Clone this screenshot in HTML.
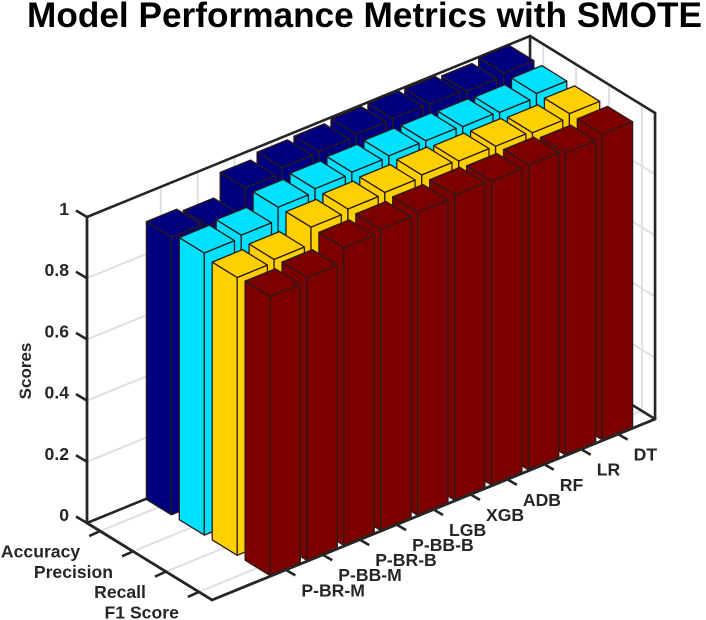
<!DOCTYPE html>
<html lang="en">
<head>
<meta charset="utf-8">
<title>Model Performance Metrics with SMOTE</title>
<style>
html,body{margin:0;padding:0;background:#fff;width:706px;height:620px;overflow:hidden}
svg{display:block;filter:blur(0.35px)}
text{font-family:"Liberation Sans",Arial,sans-serif;font-weight:bold;fill:#262626}
</style>
</head>
<body>
<svg id="chart" width="706" height="620" viewBox="0 0 706 620" xmlns="http://www.w3.org/2000/svg">
  <text x="27" y="27" font-size="35" style="fill:#000" textLength="675" lengthAdjust="spacingAndGlyphs">Model Performance Metrics with SMOTE</text>
  <text transform="translate(31,371) rotate(-90)" text-anchor="middle" font-size="17">Scores</text>
</svg>
<script>
const categories = ['P-BR-M','P-BB-M','P-BR-B','P-BB-B','LGB','XGB','ADB','RF','LR','DT'];
const seriesNames = ['Accuracy','Precision','Recall','F1 Score'];
const seriesColors = ['#00007f','#00e0ff','#ffd000','#7d0000'];
const accuracy = [0.908,0.895,0.970,0.987,0.990,0.997,0.999,0.997,0.990,1.000];
const precision = [0.922,0.931,0.973,0.984,0.989,0.993,0.993,0.990,0.987,1.000];
const recall = [0.908,0.918,0.974,0.984,0.989,0.997,0.993,0.992,0.987,1.000];
const f1Score = [0.912,0.925,0.973,0.984,0.990,0.997,0.993,0.997,0.987,0.999];
const zTicks = [0,0.2,0.4,0.6,0.8,1];

const seriesValues = [accuracy,precision,recall,f1Score];
const svg = document.getElementById('chart');
const NS = 'http://www.w3.org/2000/svg';
const AXIS = '#262626', GRID = '#e0e0e0', EDGE = '#2b1a1a';
const X_MAX = 12, Y_MAX = 3.8;

// axis functions: category index -> x unit, series index -> y unit, projection to the screen
function xUnit(i){ return i + 2; }
function yUnit(s){ return s + 0.4; }
function px(x,y){ return 87 + x*36.92 + y*32.9; }
function py(x,y,z){ return 523 - x*15.08 + y*20.26 - z*306; }
function pt(x,y,z){ return px(x,y).toFixed(1) + ',' + py(x,y,z).toFixed(1); }

function make(tag, parent, attrs){
  const el = document.createElementNS(NS, tag);
  for (const k in attrs) el.setAttribute(k, attrs[k]);
  parent.appendChild(el);
  return el;
}
function segment(parent, a, b, color, w){
  return make('line', parent, {x1:px(a[0],a[1]),y1:py(a[0],a[1],a[2]),x2:px(b[0],b[1]),y2:py(b[0],b[1],b[2]),stroke:color,'stroke-width':w,'stroke-linecap':'round'});
}
function group(parent){
  return make('g', parent, {});
}

// gridlines on the back walls and floor
const gridGroup = group(svg);


zTicks.forEach(function(z){
  const a = segment(gridGroup,[0,0,z],[X_MAX,0,z],GRID,2);
  
  
  const b = segment(gridGroup,[X_MAX,0,z],[X_MAX,Y_MAX,z],GRID,2);
  
  
});
categories.forEach(function(c,i){
  const a = segment(gridGroup,[xUnit(i),0,0],[xUnit(i),0,1],GRID,2);
  
  
  const b = segment(gridGroup,[xUnit(i),0,0],[xUnit(i),Y_MAX,0],GRID,2);
  
  
});
seriesNames.forEach(function(n,s){
  const a = segment(gridGroup,[X_MAX,yUnit(s),0],[X_MAX,yUnit(s),1],GRID,2);
  
  
  const b = segment(gridGroup,[0,yUnit(s),0],[X_MAX,yUnit(s),0],GRID,2);
  
  
});

// rear part of the axis box
const backBox = group(svg);


[[[0,0,0],[X_MAX,0,0]],[[X_MAX,0,0],[X_MAX,Y_MAX,0]],[[X_MAX,0,0],[X_MAX,0,1]],[[0,0,1],[X_MAX,0,1]],[[X_MAX,0,1],[X_MAX,Y_MAX,1]],[[X_MAX,Y_MAX,0],[X_MAX,Y_MAX,1]]].forEach(function(e){
  segment(backBox,e[0],e[1],AXIS,2.6);
});

// bars, drawn from the rear of the scene to the front
const HW = 0.41, HD = 0.38;
const barsGroup = group(svg);


seriesNames.forEach(function(name,s){
  const values = seriesValues[s];
  for (let i = categories.length - 1; i >= 0; i--){
    const x0 = xUnit(i) - HW, x1 = xUnit(i) + HW;
    const y0 = yUnit(s) - HD, y1 = yUnit(s) + HD;
    const v = values[i];
    const bar = group(barsGroup);
    
    
    const style = {fill:seriesColors[s],stroke:EDGE,'stroke-width':1.3,'stroke-linejoin':'round'};
    make('polygon', bar, Object.assign({points:[pt(x0,y0,0),pt(x0,y1,0),pt(x0,y1,v),pt(x0,y0,v)].join(' ')},style));
    make('polygon', bar, Object.assign({points:[pt(x0,y1,0),pt(x1,y1,0),pt(x1,y1,v),pt(x0,y1,v)].join(' ')},style));
    make('polygon', bar, Object.assign({points:[pt(x0,y0,v),pt(x1,y0,v),pt(x1,y1,v),pt(x0,y1,v)].join(' ')},style));
  }
});

// front axes and ticks
const frontAxes = group(svg);


const xAxisLine = segment(frontAxes,[0,Y_MAX,0],[X_MAX,Y_MAX,0],AXIS,2.8);


const yAxisLine = segment(frontAxes,[0,0,0],[0,Y_MAX,0],AXIS,2.8);


const zAxisLine = segment(frontAxes,[0,0,0],[0,0,1],AXIS,2.8);



function tick(x1,y1,x2,y2){
  return make('line', frontAxes, {x1:x1,y1:y1,x2:x2,y2:y2,stroke:AXIS,'stroke-width':2.6});
}
function label(str,x,y,anchor){
  const t = make('text', svg, {x:x,y:y,'font-size':17.6,'text-anchor':anchor});
  t.textContent = str;
  return t;
}

zTicks.forEach(function(z){
  const X = px(0,0), Y = py(0,0,z);
  const tk = tick(X,Y,X-11,Y-6.5);
  
  
  const lb = label(String(z),69,Y-2,'end');
  
  
});
categories.forEach(function(c,i){
  const X = px(xUnit(i),Y_MAX), Y = py(xUnit(i),Y_MAX,0);
  const tk = tick(X,Y,X+9.5,Y+5.5);
  
  
  const lb = label(c,X+15.5,Y+26.5,'start');
  
  
});
seriesNames.forEach(function(n,s){
  const X = px(0,yUnit(s)), Y = py(0,yUnit(s),0);
  const tk = tick(X,Y,X-11,Y+5);
  
  
  const lb = label(n,X-20,Y+26.5,'end');
  
  
});
</script>
</body>
</html>
